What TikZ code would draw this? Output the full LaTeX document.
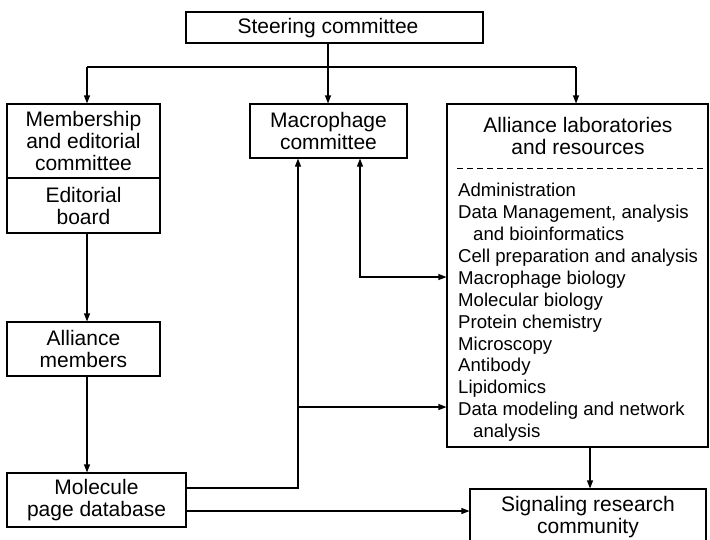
\documentclass[tikz,border=0pt]{standalone}
\usepackage{fontspec}
\setmainfont{Liberation Sans}
\usetikzlibrary{arrows.meta}
\begin{document}
\begin{tikzpicture}[x=1pt,y=-1pt,
  box/.style={draw, line width=1.1pt, inner sep=0pt, align=center,
    font=\fontsize{21}{22}\selectfont},
  lbl/.style={inner sep=0pt, align=center, font=\fontsize{21}{22}\selectfont},
  item/.style={inner sep=0pt, anchor=base west, font=\fontsize{18.6}{21.9}\selectfont},
  conn/.style={line width=1.1pt},
  arr/.style={conn, -{Triangle[length=8pt,width=6pt]}},
  biarr/.style={conn, {Triangle[length=8pt,width=6pt]}-{Triangle[length=8pt,width=6pt]}},
  sep/.style={line width=0.9pt, dash pattern=on 6pt off 4pt}]
\useasboundingbox (0,0) rectangle (710,539);

% boxes
\node[box, minimum width=297pt, minimum height=31pt] (steer) at (334.5,27.5) {};
\node[lbl] (steertext) at (328,28) {Steering committee};

\node[box, minimum width=153pt, minimum height=74pt] (memb) at (83.5,141)
  {Membership\\and editorial\\committee};
\node[box, minimum width=153pt, minimum height=55pt] (board) at (83.5,205.5)
  {Editorial\\board};

\node[box, minimum width=157pt, minimum height=54pt] (macro) at (328.5,131)
  {Macrophage\\committee};

\node[box, minimum width=261pt, minimum height=343pt] (labs) at (577.5,275.5) {};
\node[lbl] (labshead) at (578,136) {Alliance laboratories\\and resources};
\draw[sep] (457,168) -- (labs.east |- 0,168);

\foreach \dx/\t [count=\i] in {0/Administration,
    0/{Data Management, analysis},
    15/and bioinformatics,
    0/Cell preparation and analysis,
    0/Macrophage biology,
    0/Molecular biology,
    0/Protein chemistry,
    0/Microscopy,
    0/Antibody,
    0/Lipidomics,
    0/Data modeling and network,
    15/analysis}
  \node[item] (item\i) at ({458+\dx},{196.7+21.9*(\i-1)}) {\t};

\node[box, minimum width=153pt, minimum height=54pt] (members) at (83.5,349)
  {Alliance\\members};
\node[box, minimum width=179pt, minimum height=54pt] (molecule) at (96.5,500)
  {Molecule\\page database};
\node[box, minimum width=236pt, minimum height=56pt] (signal) at (588,517)
  {Signaling research\\community};

% connectors
\coordinate (hl) at (87,67);
\coordinate (hr) at (576,67);
\coordinate (hm) at (328,67);
\draw[conn] (hl) -- (hr);
\draw[arr] (328,0 |- steer.south) -- (328,0 |- macro.north);
\draw[arr] (hl) -- (hl |- memb.north);
\draw[arr] (hr) -- (hr |- labs.north);
\draw[arr] (87,0 |- board.south) -- (87,0 |- members.north);
\draw[arr] (87,0 |- members.south) -- (87,0 |- molecule.north);

\coordinate (j1) at (298,488);
\coordinate (j2) at (298,407);
\draw[arr] (molecule.east |- j1) -- (j1) -- (298,0 |- macro.south);
\draw[arr] (j2) -- (labs.west |- j2);

\coordinate (j3) at (360,277);
\draw[biarr] (360,0 |- macro.south) -- (j3) -- (labs.west |- j3);

\draw[arr] (molecule.east |- 0,511) -- (signal.west |- 0,511);
\draw[arr] (590,0 |- labs.south) -- (590,0 |- signal.north);
\end{tikzpicture}
\end{document}
